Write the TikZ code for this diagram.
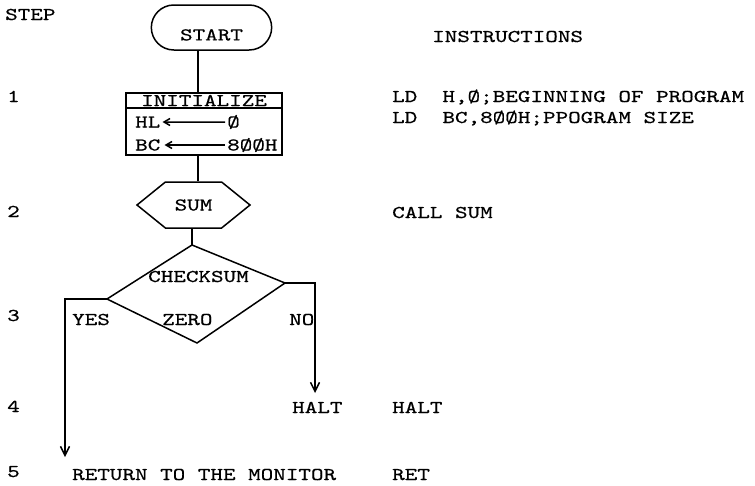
\documentclass[tikz,border=0pt]{standalone}
\usepackage{fontspec}
\usepackage{tikz}
\usetikzlibrary{shapes.geometric,shapes.misc,shapes.symbols,arrows.meta,calc}
\newfontfamily\tty{lmmono10-regular.otf}[FakeStretch=1.33, FakeBold=0.6]
\tikzset{
  fl_term/.style={
    draw, rounded rectangle, line width=1.5pt,
    minimum width=127pt, minimum height=45pt,
    inner ysep=0pt, text height=26pt
  },
  fl_box/.style={
    draw, rectangle, line width=1.5pt,
    minimum width=156pt, inner sep=0pt
  },
  fl_sub/.style={
    draw, signal, signal to=west and east, signal pointer angle=78,
    line width=1.5pt, minimum width=113pt, minimum height=46pt, inner sep=0pt
  },
  fl_txt/.style={anchor=base west, inner sep=0pt},
  fl_line/.style={line width=1.5pt},
  fl_arr/.style={-{Straight Barb[length=9pt,width=9pt]}, line width=1.5pt},
  fl_sarr/.style={-{Straight Barb[length=6pt,width=7pt]}, line width=1.5pt},
}

\begin{document}
\begin{tikzpicture}[x=1pt, y=-1pt, font=\fontsize{18}{22}\selectfont\tty]
\useasboundingbox (0,0) rectangle (755,485);

% Column heads and step numbers
\node[fl_txt] (stephead) at (5,20)   {STEP};
\node[fl_txt] (insthead) at (432,42) {INSTRUCTIONS};
\node[fl_txt] (s1) at (7,102) {1};
\node[fl_txt] (s2) at (7,217) {2};
\node[fl_txt] (s3) at (7,321) {3};
\node[fl_txt] (s4) at (7,412) {4};
\node[fl_txt] (s5) at (7,477) {5};

% Flowchart
\coordinate (trunk) at (198,0);
\node[fl_term] (start) at (211.5,27.5) {START};
\node[fl_box, minimum height=15pt] (init)     at (204,100.5) {INITIALIZE};
\node[fl_box, minimum height=47pt] (initbody) at (204,131.5) {};
\node[fl_txt] (hl)     at (135,127.5) {HL};
\node[fl_txt] (hlval)  at (227,127.5) {Ø};
\node[fl_txt] (bc)     at (135,150.5) {BC};
\node[fl_txt] (bcval)  at (227,150.5) {8ØØH};
\node[fl_sub] (sum) at (193.5,205) {SUM};

% Decision (drawn slightly skewed, as in the listing)
\coordinate (dtop)   at (192,245);
\coordinate (dright) at (285,283);
\coordinate (dbot)   at (197,343);
\coordinate (dleft)  at (107,299);
\draw[fl_line] (dtop) -- (dright) -- (dbot) -- (dleft) -- cycle;
\node[fl_txt] (chk)  at (148,282) {CHECKSUM};
\node[fl_txt] (zero) at (162,325) {ZERO};
\node[fl_txt] (yes)  at (72,325)  {YES};
\node[fl_txt] (no)   at (289,325) {NO};

\node[fl_txt] (halt) at (292,413) {HALT};
\node[fl_txt] (ret)  at (72,480)  {RETURN TO THE MONITOR};
\coordinate (yesend) at (65,457);
\coordinate (noend)  at (315,393);

% Instructions
\node[fl_txt] (i1) at (392,102) {LD~~H,Ø;BEGINNING OF PROGRAM};
\node[fl_txt] (i2) at (392,123) {LD~~BC,8ØØH;PPOGRAM SIZE};
\node[fl_txt] (i3) at (392,218) {CALL SUM};
\node[fl_txt] (i4) at (392,413) {HALT};
\node[fl_txt] (i5) at (392,480) {RET};

% Connectors
\draw[fl_line] (start.south -| trunk) -- (init.north -| trunk);
\draw[fl_line] (initbody.south -| trunk) -- (sum.north -| trunk);
\draw[fl_line] (sum.south -| dtop) -- (dtop);
\draw[fl_sarr] (hlval.west) ++(-2,0) -- ($(hl.east)+(2,0)$);
\draw[fl_sarr] (bcval.west) ++(-2,0) -- ($(bc.east)+(4,0)$);
\draw[fl_arr] (dleft) -| (yesend);
\draw[fl_arr] (dright) -| (noend);

\end{tikzpicture}
\end{document}
